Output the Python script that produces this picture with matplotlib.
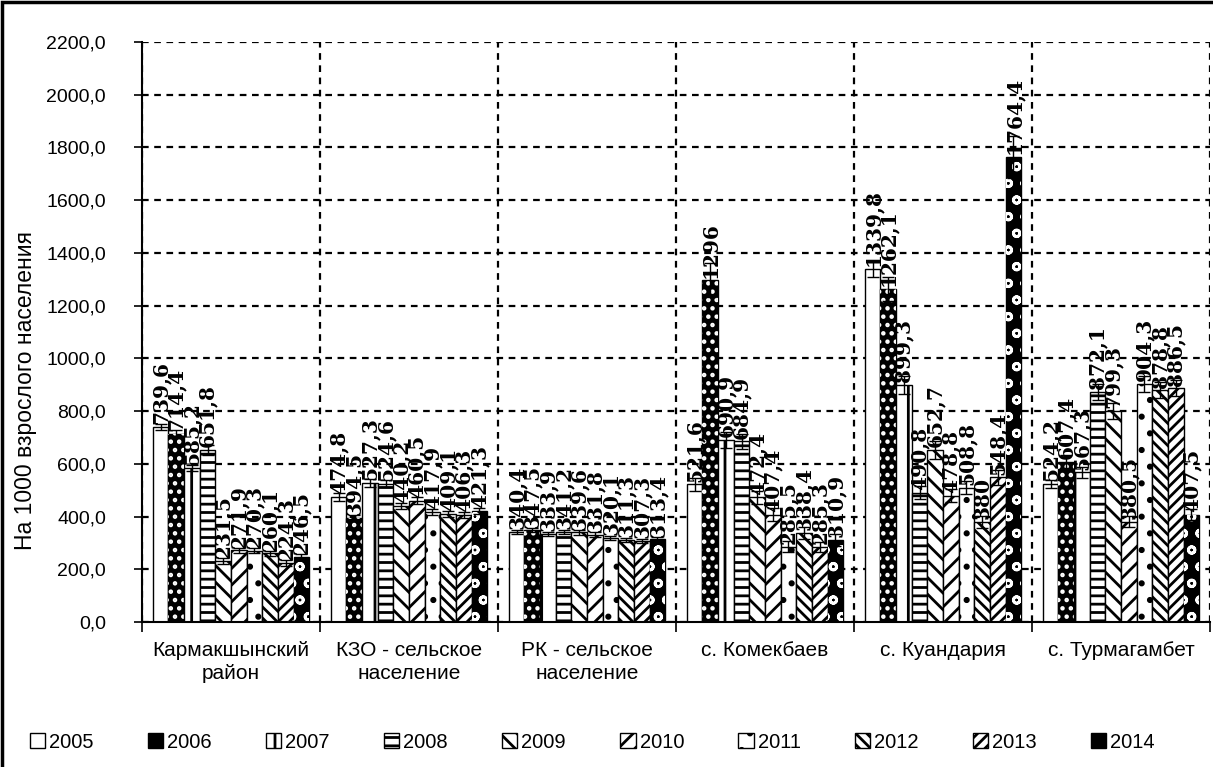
import numpy as np
import matplotlib.pyplot as plt
from matplotlib.patches import Rectangle
from matplotlib.ticker import FuncFormatter

plt.rcParams['font.family'] = 'Liberation Sans'
plt.rcParams['hatch.linewidth'] = 2.0

places = ["Кармакшынский\nрайон", "КЗО - сельское\nнаселение", "РК - сельское\nнаселение",
          "с. Комекбаев", "с. Куандария", "с. Турмагамбет"]
years = ["2005", "2006", "2007", "2008", "2009", "2010", "2011", "2012", "2013", "2014"]

# rate per 1000 adults, one list per place (2005..2014)
karm = [739.6, 714.4, 585.2, 651.8, 231.5, 271.9, 270.3, 260.1, 224.3, 246.5]
kzo = [474.8, 394.5, 527.3, 524.6, 440.2, 460.5, 417.9, 409.1, 406.3, 421.3]
rk = [340.4, 347.5, 333.9, 341.2, 339.6, 331.8, 320.1, 311.3, 307.3, 313.4]
komek = [521.6, 1296.0, 690.9, 684.9, 472.4, 407.4, 285.5, 338.4, 285.3, 310.9]
kuand = [1339.8, 1262.1, 899.3, 490.8, 652.7, 478.8, 508.8, 380.0, 548.4, 1764.4]
turm = [524.2, 607.4, 567.3, 872.1, 799.3, 380.5, 904.3, 878.8, 886.5, 407.5]

# error bar half-widths
karm_err = [12, 14, 12, 18, 10, 10, 10, 10, 10, 10]
kzo_err = [14, 12, 14, 14, 12, 12, 12, 12, 12, 12]
rk_err = [8, 8, 8, 8, 8, 8, 8, 8, 8, 8]
komek_err = [25, 64, 30, 30, 25, 25, 20, 22, 20, 22]
kuand_err = [30, 45, 35, 25, 35, 25, 25, 22, 30, 80]
turm_err = [15, 25, 20, 30, 30, 20, 30, 30, 30, 20]

values = np.array([karm, kzo, rk, komek, kuand, turm])
errors = np.array([karm_err, kzo_err, rk_err, komek_err, kuand_err, turm_err])

# face colour, hatch, hatch colour
styles = [
    ('white', None, 'black'),
    ('black', '..', 'white'),
    ('white', '|', 'black'),
    ('white', '--', 'black'),
    ('white', '\\\\', 'black'),
    ('white', '//', 'black'),
    ('white', '.', 'black'),
    ('white', '\\\\\\', 'black'),
    ('white', '///', 'black'),
    ('black', 'o', 'white'),
]


def fmt(v):
    s = f"{v:.1f}".replace('.', ',')
    return s[:-2] if s.endswith(',0') else s


fig = plt.figure(figsize=(12.13, 7.67), dpi=100)
ax = fig.add_axes([142 / 1213, 1 - 622 / 767, (1210 - 142) / 1213, (622 - 42) / 767])

x = np.arange(len(places))
w = 0.088
handles = []
for j, yr in enumerate(years):
    xs = x + (j - 4.5) * w
    vals = values[:, j]
    fc, hatch, hc = styles[j]
    if hc == 'white':
        b = ax.bar(xs, vals, w, color=fc, edgecolor='black', lw=1, label=yr, zorder=2)
        ax.bar(xs, vals, w, fill=False, edgecolor='white', hatch=hatch, lw=0, zorder=2)
    else:
        b = ax.bar(xs, vals, w, color=fc, edgecolor='black', hatch=hatch, lw=1,
                   label=yr, zorder=2)
    handles.append(b)
    ax.errorbar(xs, vals, yerr=errors[:, j], fmt='none', ecolor='black',
                elinewidth=1, capsize=4, capthick=1, zorder=3)
    for xi, v in zip(xs, vals):
        ax.annotate(fmt(v), (xi, v), xytext=(0, 2), textcoords='offset points',
                    rotation=90, ha='center', va='bottom', fontsize=14.5,
                    family='DejaVu Serif', fontweight='bold', zorder=4)

ax.set_xlim(-0.5, 5.5)
ax.set_ylim(0, 2200)
ax.set_yticks(np.arange(0, 2201, 200))
ax.yaxis.set_major_formatter(FuncFormatter(lambda v, p: f"{v:.1f}".replace('.', ',')))
ax.tick_params(axis='y', length=6, width=1.2, pad=20, labelsize=14, color='black')

ax.set_xticks(x)
ax.set_xticklabels(places, linespacing=1.25)
ax.set_xticks(np.arange(-0.5, 6, 1), minor=True)
ax.tick_params(axis='x', which='major', length=0, pad=14, labelsize=15)
ax.tick_params(axis='x', which='minor', length=7, width=1.2)

ax.grid(axis='y', which='major', ls=(0, (3, 2.5)), color='black', lw=1.6, zorder=0)
ax.grid(axis='x', which='minor', ls=(0, (3, 2.5)), color='black', lw=1.6, zorder=0)
ax.set_axisbelow(True)
for s in ['top', 'right']:
    ax.spines[s].set_visible(False)
for s in ['left', 'bottom']:
    ax.spines[s].set_linewidth(1.5)

ax.set_ylabel("На 1000 взрослого населения", fontsize=16.5)
ax.yaxis.set_label_coords(-0.098, 0.4)

fig.legend(handles=handles, labels=years, loc='center left',
           bbox_to_anchor=(30 / 1213, 1 - 742 / 767), ncol=10, frameon=False,
           fontsize=14.5, handlelength=0.75, handleheight=0.75, handletextpad=0.2,
           columnspacing=2.7, borderpad=0, borderaxespad=0)

# outer frame of the chart area
fig.add_artist(Rectangle((0.002, -0.5), 2, 1.5 - 0.003, transform=fig.transFigure,
                         fill=False, edgecolor='black', lw=2.5, clip_on=False))

plt.savefig("out.png", dpi=100)
